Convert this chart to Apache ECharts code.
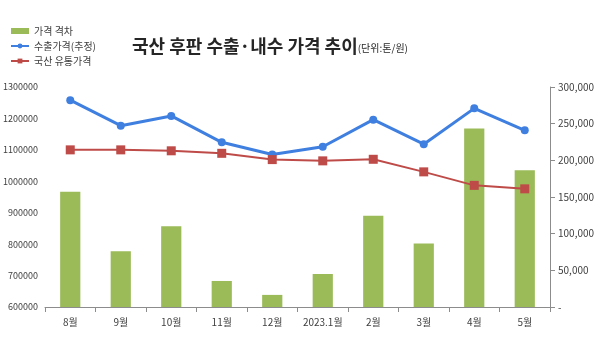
<!DOCTYPE html>
<html><head><meta charset="utf-8">
<script src="https://cdn.jsdelivr.net/npm/echarts@6/dist/echarts.min.js"></script>
<style>html,body{margin:0;padding:0;background:#fff}#c{width:600px;height:338px}</style>
</head><body><div id="c"></div>
<script>
const categories = ['8월','9월','10월','11월','12월','2023.1월','2월','3월','4월','5월'];
const gapValues = [157000, 76000, 110000, 35500, 16500, 45000, 124500, 86500, 243500, 186500];
const exportPrice = [1258000, 1177000, 1208000, 1124000, 1085000, 1110000, 1196000, 1118000, 1232000, 1162000];
const domesticPrice = [1100000, 1100000, 1097000, 1089000, 1069000, 1065000, 1070000, 1030000, 987000, 976000];
const leftTicks = [600000, 1300000, 100000];
const rightTicks = [0, 300000, 50000];

const chart = echarts.init(document.getElementById('c'));
const font = '"Malgun Gothic","Noto Sans CJK KR",sans-serif';
chart.setOption({
  animation: false,
  textStyle: {fontFamily: font},
  title: {
    text: '국산 후판 수출·내수 가격 추이{s|(단위:톤/원)}',
    left: 127, top: 32,
    textStyle: {fontSize: 18, fontWeight: 'bold', color: '#262626', fontFamily: font,
      rich: {s: {fontSize: 10, fontWeight: 'normal', color: '#262626', fontFamily: font, padding: [5,0,0,0]}}}
  },
  legend: {
    orient: 'vertical', left: 5, top: 21, itemGap: 5, itemWidth: 18, itemHeight: 6,
    textStyle: {fontSize: 10, color: '#404040', fontFamily: font},
    data: [
      {name: '가격 격차', icon: 'rect'},
      {name: '수출가격(추정)'},
      {name: '국산 유통가격'}
    ]
  },
  grid: {left: 45, right: 50, top: 87, bottom: 31, containLabel: false, outerBoundsMode: 'none'},
  xAxis: {
    type: 'category', data: categories, boundaryGap: true,
    axisLine: {lineStyle: {color: '#8c8c8c'}},
    axisTick: {show: true, alignWithLabel: false, length: 5, interval: 0, lineStyle: {color: '#8c8c8c'}},
    axisLabel: {fontSize: 10, color: '#404040', margin: 10, interval: 0}
  },
  yAxis: [
    {type: 'value', min: leftTicks[0], max: leftTicks[1], interval: leftTicks[2],
     axisLine: {show: false}, axisTick: {show: false}, splitLine: {show: false},
     axisLabel: {fontSize: 9, color: '#404040', margin: 7, formatter: v => String(v)}},
    {type: 'value', position: 'right', min: rightTicks[0], max: rightTicks[1], interval: rightTicks[2],
     axisLine: {show: true, lineStyle: {color: '#8c8c8c'}},
     axisTick: {show: true, length: 5, lineStyle: {color: '#8c8c8c'}}, splitLine: {show: false},
     axisLabel: {fontSize: 10, color: '#404040', margin: 8,
       formatter: v => v === 0 ? '-' : v.toLocaleString('en-US')}}
  ],
  series: [
    {name: '가격 격차', type: 'bar', yAxisIndex: 1, data: gapValues, barWidth: '40%',
     itemStyle: {color: '#9BBB59'}},
    {name: '수출가격(추정)', type: 'line', yAxisIndex: 0, data: exportPrice,
     symbol: 'circle', symbolSize: 8,
     lineStyle: {color: '#3F7FE0', width: 3}, itemStyle: {color: '#3F7FE0'}},
    {name: '국산 유통가격', type: 'line', yAxisIndex: 0, data: domesticPrice,
     symbol: 'rect', symbolSize: 9,
     lineStyle: {color: '#BE4B48', width: 2}, itemStyle: {color: '#BE4B48'}}
  ]
});
</script></body></html>
